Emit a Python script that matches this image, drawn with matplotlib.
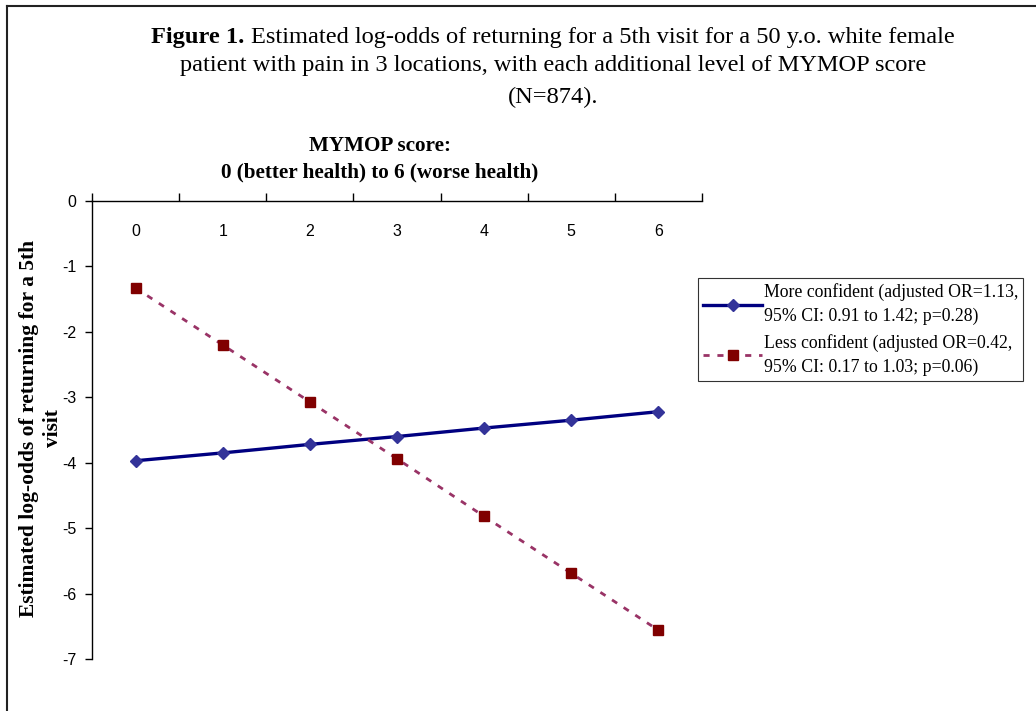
import matplotlib
matplotlib.use("Agg")
import matplotlib.pyplot as plt
from matplotlib.lines import Line2D

# data
scores = [0, 1, 2, 3, 4, 5, 6]
more_conf = [-3.97, -3.85, -3.72, -3.60, -3.47, -3.35, -3.22]
less_conf = [-1.33, -2.20, -3.07, -3.94, -4.82, -5.69, -6.56]
y_ticks = [0, -1, -2, -3, -4, -5, -6, -7]

more_label = "More confident (adjusted OR=1.13,\n95% CI: 0.91 to 1.42; p=0.28)"
less_label = "Less confident (adjusted OR=0.42,\n95% CI: 0.17 to 1.03; p=0.06)"

SERIF = "Liberation Serif"
SANS = "Liberation Sans"

W, H = 1036, 711
fig = plt.figure(figsize=(W / 100, H / 100), dpi=100)

# outer frame (left and top edge only visible)
fig.add_artist(Line2D([7 / W, 7 / W], [0, 1 - 6 / H], color="#222222", lw=1.5,
                      transform=fig.transFigure))
fig.add_artist(Line2D([7 / W, 1], [1 - 6 / H, 1 - 6 / H], color="#222222", lw=1.5,
                      transform=fig.transFigure))

ax = fig.add_axes([92 / W, 1 - 659 / H, (702 - 92) / W, (659 - 201) / H])

ax.plot(scores, more_conf, color="#000080", lw=2.4, marker="D", ms=6.5,
        mfc="#333399", mec="#333399", label=more_label, zorder=3)
ax.plot(scores, less_conf, color="#993366", lw=2.0, ls=(0, (2.2, 2.8)),
        marker="s", ms=6.5, mfc="#800000", mec="#800000", label=less_label, zorder=3)

ax.set_xlim(-0.5, 6.5)
ax.set_ylim(-7, 0)

for s in ["right", "bottom"]:
    ax.spines[s].set_visible(False)
ax.spines["top"].set_linewidth(1.0)
ax.spines["left"].set_linewidth(1.0)

# category axis on top, ticks between categories, labels under the line
ax.xaxis.set_ticks_position("top")
ax.set_xticks([i - 0.5 for i in range(8)])
ax.set_xticklabels([])
ax.set_xticks(scores, minor=True)
ax.set_xticklabels([str(s) for s in scores], minor=True)
ax.tick_params(axis="x", which="major", direction="out", length=6, width=1)
ax.tick_params(axis="x", which="minor", length=0, labeltop=True, labelbottom=False,
               pad=-27, labelsize=11.5)
for t in ax.get_xticklabels(minor=True):
    t.set_family(SANS)

ax.set_yticks(y_ticks)
ax.set_yticklabels([str(v) for v in y_ticks])
ax.tick_params(axis="y", direction="out", length=5, width=1, labelsize=11.5, pad=6)
for t in ax.get_yticklabels():
    t.set_family(SANS)

# y label (two centred lines)
fig.text(41 / W, 1 - 428 / H, "Estimated log-odds of returning for a 5th\nvisit",
         rotation=90, ha="center", va="center", family=SERIF, fontsize=15.5,
         fontweight="bold", linespacing=1.2)

# chart title
fig.text(380 / W, 1 - 159 / H, "MYMOP score:\n0 (better health) to 6 (worse health)",
         ha="center", va="center", family=SERIF, fontsize=15.2, fontweight="bold",
         linespacing=1.45)

# figure caption (bold "Figure 1." prefix)
fig.canvas.draw()
renderer = fig.canvas.get_renderer()
cx = 553 / W
y1 = 1 - 37 / H
CAP = 17.6
bold = fig.text(0, y1, "Figure 1. ", family=SERIF, fontsize=CAP, fontweight="bold",
                va="center", ha="left")
rest = fig.text(0, y1, "Estimated log-odds of returning for a 5th visit for a 50 y.o. white female",
                family=SERIF, fontsize=CAP, va="center", ha="left")
wb = bold.get_window_extent(renderer).width / W
wr = rest.get_window_extent(renderer).width / W
x0 = cx - (wb + wr) / 2
bold.set_x(x0)
rest.set_x(x0 + wb)
fig.text(cx, 1 - 66 / H,
         "patient with pain in 3 locations, with each additional level of MYMOP score",
         family=SERIF, fontsize=CAP, ha="center", va="center")
fig.text(cx, 1 - 97 / H, "(N=874).", family=SERIF, fontsize=CAP, ha="center", va="center")

# legend outside the plot on the right
leg = fig.legend(loc="upper left", bbox_to_anchor=(698 / W, 1 - 278 / H),
                 prop={"family": SERIF, "size": 12.8}, frameon=True, fancybox=False,
                 handlelength=3.3, handletextpad=0.1, borderpad=0.3,
                 labelspacing=0.5, borderaxespad=0)
for t in leg.get_texts():
    t.set_linespacing(1.5)
leg.get_frame().set_edgecolor("black")
leg.get_frame().set_linewidth(0.8)

fig.savefig("out.png", dpi=100, facecolor="white")
